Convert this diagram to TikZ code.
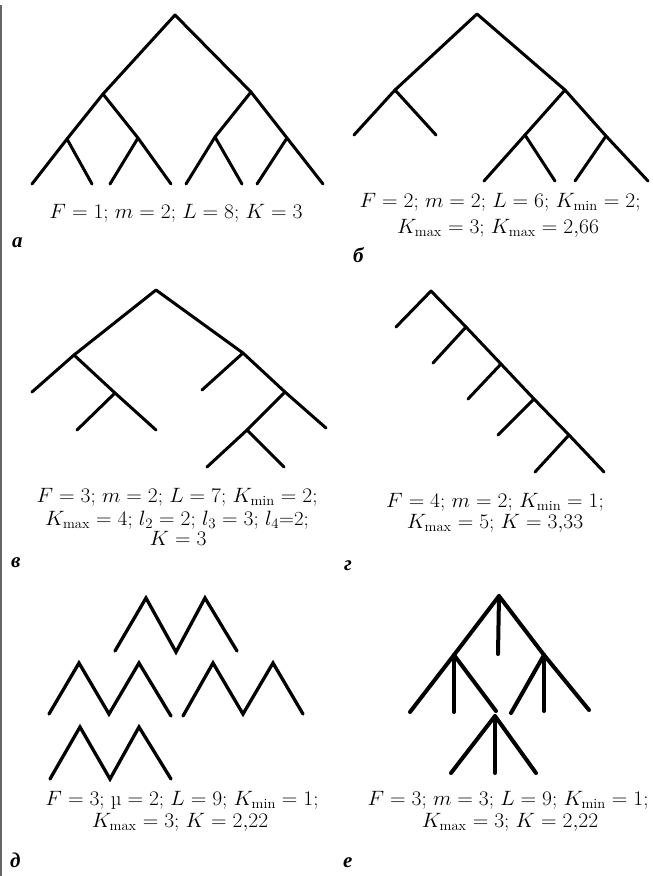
\documentclass[tikz,border=0pt]{standalone}
\usepackage{fontspec}
\newfontfamily\labfont{Liberation Serif}
\newcommand\stretchtxt[1]{\scalebox{1.04}[1]{#1}}
\tikzset{
  edge/.style={line width=3pt, line cap=round, line join=round},
  zig/.style={line width=3.3pt, line cap=round, line join=miter},
  thickedge/.style={line width=4pt, line cap=round, line join=round},
  captext/.style={anchor=base, inner sep=0pt, font=\fontsize{20}{24}\selectfont},
  lab/.style={anchor=base west, inner sep=0pt, font=\labfont\bfseries\itshape\fontsize{21}{24}\selectfont},
}
\begin{document}
\begin{tikzpicture}[x=1pt,y=-1pt]
\useasboundingbox (0,0) rectangle (653,876);
% left rule
\coordinate (r1) at (1,5);
\coordinate (r2) at (1,876);
\draw[gray!80!black, line width=1.5pt] (r1) -- (r2);

% ---------- a ----------
\coordinate (a0) at (175,15);
\coordinate (a1) at (103,94);
\coordinate (a2) at (251,92);
\coordinate (a11) at (67,139);
\coordinate (a12) at (138,138);
\coordinate (a21) at (215,137);
\coordinate (a22) at (287,138);
\coordinate (a111) at (32,184);
\coordinate (a112) at (92,184);
\coordinate (a121) at (110,184);
\coordinate (a122) at (171,184);
\coordinate (a211) at (186,184);
\coordinate (a212) at (242,184);
\coordinate (a221) at (257,184);
\coordinate (a222) at (323,184);
\draw[edge] (a111) -- (a11) -- (a1) -- (a0) -- (a2) -- (a22) -- (a222);
\draw[edge] (a11) -- (a112);
\draw[edge] (a1) -- (a12) -- (a122);
\draw[edge] (a12) -- (a121);
\draw[edge] (a2) -- (a21) -- (a211);
\draw[edge] (a21) -- (a212);
\draw[edge] (a22) -- (a221);
\node[captext] (ca) at (176,218) {\stretchtxt{$F=1$; $m=2$; $L=8$; $K=3$}};
\node[lab] (la) at (12,247) {а};

% ---------- b ----------
\coordinate (b0) at (477,14);
\coordinate (b1) at (395,90);
\coordinate (b2) at (565,90);
\coordinate (b11) at (354,135);
\coordinate (b12) at (436,135);
\coordinate (b21) at (525,135);
\coordinate (b22) at (606,136);
\coordinate (b211) at (484,181);
\coordinate (b212) at (555,181);
\coordinate (b221) at (575,181);
\coordinate (b222) at (648,181);
\draw[edge] (b11) -- (b1) -- (b0) -- (b2) -- (b22) -- (b222);
\draw[edge] (b1) -- (b12);
\draw[edge] (b2) -- (b21) -- (b211);
\draw[edge] (b21) -- (b212);
\draw[edge] (b22) -- (b221);
\node[captext] (cb1) at (500,207) {\stretchtxt{$F=2$; $m=2$; $L=6$; $K_{\mathrm{min}}=2$;}};
\node[captext] (cb2) at (498,233) {\stretchtxt{$K_{\mathrm{max}}=3$; $K_{\mathrm{max}}=2{,}66$}};
\node[lab] (lb) at (353,262) {б};

% ---------- v ----------
\coordinate (c0) at (156,290);
\coordinate (c1) at (74,355);
\coordinate (c2) at (243,353);
\coordinate (c11) at (32,392);
\coordinate (c12) at (115,393);
\coordinate (c121) at (77,430);
\coordinate (c122) at (156,430);
\coordinate (c21) at (202,390);
\coordinate (c22) at (285,392);
\coordinate (c221) at (247,430);
\coordinate (c222) at (326,428);
\coordinate (c2211) at (207,467);
\coordinate (c2212) at (284,467);
\draw[edge] (c11) -- (c1) -- (c0) -- (c2) -- (c22) -- (c222);
\draw[edge] (c1) -- (c12) -- (c122);
\draw[edge] (c12) -- (c121);
\draw[edge] (c2) -- (c21);
\draw[edge] (c22) -- (c221) -- (c2211);
\draw[edge] (c221) -- (c2212);
\node[captext] (cc1) at (177,502) {\stretchtxt{$F=3$; $m=2$; $L=7$; $K_{\mathrm{min}}=2$;}};
\node[captext] (cc2) at (177,525) {\stretchtxt{$K_{\mathrm{max}}=4$; $l_2=2$; $l_3=3$; $l_4$=2;}};
\node[captext] (cc3) at (178,545) {\stretchtxt{$K=3$}};
\node[lab] (lc) at (11,567) {в};

% ---------- g ----------
\coordinate (d0) at (431,291);
\coordinate (d1) at (466,327);
\coordinate (d2) at (501,364);
\coordinate (d3) at (534,399);
\coordinate (d4) at (569,435);
\coordinate (d5) at (604,472);
\coordinate (d0l) at (396,327);
\coordinate (d1l) at (433,363);
\coordinate (d2l) at (468,399);
\coordinate (d3l) at (498,435);
\coordinate (d4l) at (535,472);
\draw[edge] (d0l) -- (d0) -- (d1) -- (d2) -- (d3) -- (d4) -- (d5);
\draw[edge] (d1) -- (d1l);
\draw[edge] (d2) -- (d2l);
\draw[edge] (d3) -- (d3l);
\draw[edge] (d4) -- (d4l);
\node[captext] (cd1) at (495,507) {\stretchtxt{$F=4$; $m=2$; $K_{\mathrm{min}}=1$;}};
\node[captext] (cd2) at (495,528) {\stretchtxt{$K_{\mathrm{max}}=5$; $K=3{,}33$}};
\node[lab] (ld) at (344,570) {г};

% ---------- d ----------
\coordinate (z1) at (115,651);
\coordinate (z2) at (146,598);
\coordinate (z3) at (176,652);
\coordinate (z4) at (205,598);
\coordinate (z5) at (237,651);
\draw[zig] (z1) -- (z2) -- (z3) -- (z4) -- (z5);
\coordinate (y1) at (49,714);
\coordinate (y2) at (79,663);
\coordinate (y3) at (109,714);
\coordinate (y4) at (139,663);
\coordinate (y5) at (171,716);
\draw[zig] (y1) -- (y2) -- (y3) -- (y4) -- (y5);
\coordinate (x1) at (183,716);
\coordinate (x2) at (213,663);
\coordinate (x3) at (243,714);
\coordinate (x4) at (273,663);
\coordinate (x5) at (303,714);
\draw[zig] (x1) -- (x2) -- (x3) -- (x4) -- (x5);
\coordinate (w1) at (50,779);
\coordinate (w2) at (80,727);
\coordinate (w3) at (110,779);
\coordinate (w4) at (139,727);
\coordinate (w5) at (171,779);
\draw[zig] (w1) -- (w2) -- (w3) -- (w4) -- (w5);
\node[captext] (ce1) at (182,805) {\stretchtxt{$F=3$; \textmu${}=2$; $L=9$; $K_{\mathrm{min}}=1$;}};
\node[captext] (ce2) at (180,827) {\stretchtxt{$K_{\mathrm{max}}=3$; $K=2{,}22$}};
\node[lab] (le) at (10,867) {д};

% ---------- e ----------
\coordinate (e0) at (499,596);
\coordinate (e0m) at (498,654);
\coordinate (e1) at (454,655);
\coordinate (e2) at (544,655);
\coordinate (e11) at (410,712);
\coordinate (e1m) at (454,712);
\coordinate (e12) at (496,711);
\coordinate (e3) at (495,716);
\coordinate (e31) at (451,773);
\coordinate (e3m) at (495,773);
\coordinate (e32) at (536,773);
\coordinate (e21) at (511,713);
\coordinate (e2m) at (544,711);
\coordinate (e22) at (589,710);
\draw[thickedge] (e11) -- (e1) -- (e0) -- (e2) -- (e22);
\draw[thickedge] (e0) -- (e0m);
\draw[thickedge] (e1) -- (e1m);
\draw[thickedge] (e1) -- (e12);
\draw[thickedge] (e2) -- (e21);
\draw[thickedge] (e2) -- (e2m);
\draw[thickedge] (e31) -- (e3) -- (e32);
\draw[thickedge] (e3) -- (e3m);
\node[captext] (cf1) at (508,805) {\stretchtxt{$F=3$; $m=3$; $L=9$; $K_{\mathrm{min}}=1$;}};
\node[captext] (cf2) at (510,827) {\stretchtxt{$K_{\mathrm{max}}=3$; $K=2{,}22$}};
\node[lab] (lf) at (343,867) {е};
\end{tikzpicture}
\end{document}
